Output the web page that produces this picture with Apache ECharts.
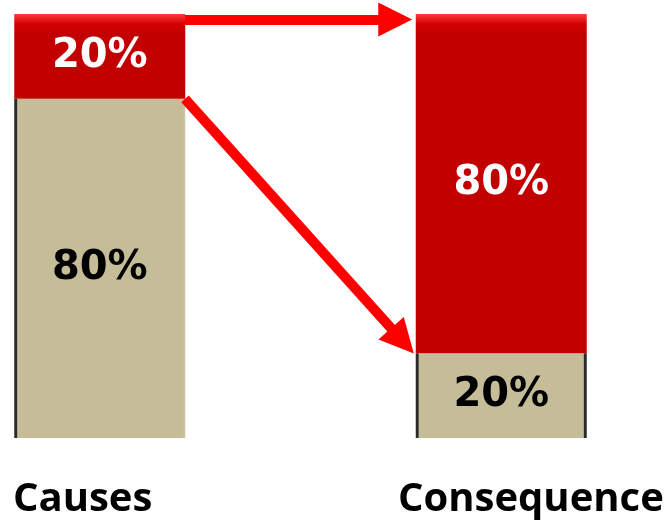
<!DOCTYPE html>
<html><head><meta charset="utf-8">
<script src="https://cdn.jsdelivr.net/npm/echarts@6/dist/echarts.min.js"></script>
<style>html,body{margin:0;padding:0;background:#fff}#c{width:664px;height:523px}</style>
</head><body><div id="c"></div>
<script>
// ---- data ----
const categories = ['Causes', 'Consequence'];
const topShares = [20, 80];      // red (top) segment, %
const bottomShares = [80, 20];   // beige (bottom) segment, %
// arrows in data coordinates [x (0 = Causes, 1 = Consequence), y %]
const arrowStarts = [[0.2123, 98.7], [0.2123, 80]];
const arrowEnds = [[0.736, 98.7], [0.754, 22.9]];

// ---- styles ----
const RED = '#c20000';
const BEIGE = '#c5bd98';
const bevelFrac = [0.12, 0.03];
function redStyle(i) {
  return {
    color: new echarts.graphic.LinearGradient(0, 0, 0, 1, [
      { offset: 0, color: '#ff3a3a' },
      { offset: bevelFrac[i], color: '#d40000' },
      { offset: bevelFrac[i] * 2, color: RED },
      { offset: 1, color: RED }
    ])
  };
}
function beigeStyle(i) {
  const stops = [
    { offset: 0, color: '#2a2a2a' }, { offset: 0.014, color: '#2a2a2a' },
    { offset: 0.02, color: BEIGE }, { offset: 0.98, color: BEIGE }
  ];
  if (i === 1) { stops.push({ offset: 0.986, color: '#2a2a2a' }, { offset: 1, color: '#2a2a2a' }); }
  else { stops.push({ offset: 1, color: '#cdc69f' }); }
  return { color: new echarts.graphic.LinearGradient(0, 0, 1, 0, stops) };
}

const chart = echarts.init(document.getElementById('c'), null, { renderer: 'canvas' });
const pctLabel = (color) => ({
  show: true, position: 'inside', color: color,
  fontFamily: '"DejaVu Sans"', fontWeight: 'bold', fontSize: 40,
  formatter: p => p.value + '%'
});

chart.setOption({
  animation: false,
  backgroundColor: '#ffffff',
  grid: { left: 99.75, right: 162.75, top: 14, bottom: 85 },
  xAxis: [
    { type: 'category', data: categories, show: false, boundaryGap: false },
    { type: 'value', min: 0, max: 1, show: false }
  ],
  yAxis: { type: 'value', min: 0, max: 100, show: false },
  series: [
    {
      name: 'bottom', type: 'bar', stack: 's', barWidth: 171, clip: false,
      data: bottomShares.map((v, i) => ({ value: v, itemStyle: beigeStyle(i) })),
      label: pctLabel('#000000')
    },
    {
      name: 'top', type: 'bar', stack: 's', barWidth: 171, clip: false,
      data: topShares.map((v, i) => ({ value: v, itemStyle: redStyle(i) })),
      label: pctLabel('#ffffff')
    },
    {
      name: 'arrows', type: 'line', xAxisIndex: 1, data: [], silent: true,
      markLine: {
        silent: true, z: 10,
        symbol: ['none', 'triangle'], symbolSize: 34,
        label: { show: false },
        lineStyle: { color: '#ff0000', width: 10, type: 'solid', opacity: 1 },
        emphasis: { disabled: true },
        data: arrowStarts.map((s, i) => [{ coord: s }, { coord: arrowEnds[i] }])
      }
    }
  ],
  graphic: [
    { type: 'text', left: 13, top: 480, style: { text: categories[0], font: 'bold 40px "Open Sans"', fill: '#000' } },
    { type: 'text', left: 398, top: 480, style: { text: categories[1], font: 'bold 40px "Open Sans"', fill: '#000' } }
  ]
});
</script></body></html>
